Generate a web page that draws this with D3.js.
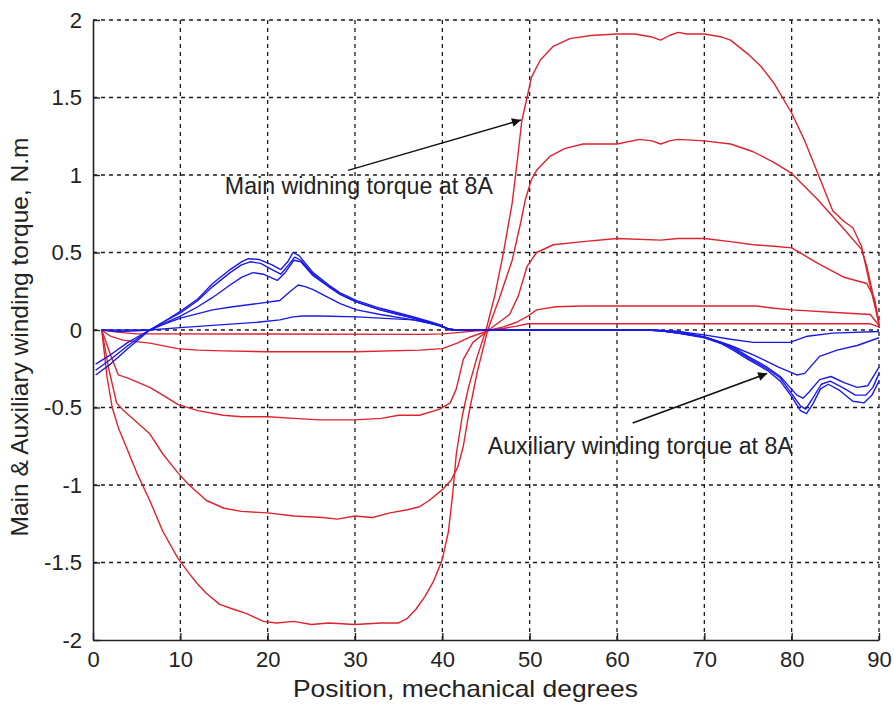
<!DOCTYPE html>
<html><head><meta charset="utf-8">
<script src="https://cdn.jsdelivr.net/npm/d3@7/dist/d3.min.js"></script>
<style>
html,body{margin:0;padding:0;background:#fff;}
svg{display:block;}
text{font-family:"Liberation Sans",Arial,Helvetica,sans-serif;fill:#222;}
</style></head>
<body>
<svg id="chart" width="894" height="705"></svg>
<script>
// ---- data ----
const xTicks = [0,10,20,30,40,50,60,70,80,90];
const yTicks = [-2,-1.5,-1,-0.5,0,0.5,1,1.5,2];
const yTickLabels = ["-2","-1.5","-1","-0.5","0","0.5","1","1.5","2"];

// main winding torque curves (red), largest current first
const main1 = [[1,0],[1.6,-0.3],[2.2,-0.5],[2.9,-0.63],[4,-0.78],[5,-0.92],[6.5,-1.1],[8,-1.3],[9.7,-1.47],[11,-1.57],[12,-1.64],[13,-1.7],[14.5,-1.77],[16,-1.8],[17.6,-1.83],[19.5,-1.88],[21,-1.89],[23,-1.88],[25,-1.9],[27,-1.89],[30,-1.9],[33,-1.89],[35,-1.89],[36,-1.86],[37,-1.8],[38,-1.72],[39,-1.62],[40,-1.48],[40.7,-1.3],[41.2,-1.05],[41.6,-0.8],[42.3,-0.55],[43,-0.37],[44,-0.17],[45,0],[46,0.22],[47,0.5],[48,0.82],[48.6,1.1],[49.1,1.35],[49.7,1.5],[50.2,1.63],[51.2,1.74],[52.7,1.83],[54.6,1.88],[57,1.9],[60,1.91],[62,1.91],[64,1.89],[65,1.87],[66,1.9],[67,1.92],[68,1.91],[70,1.91],[72,1.89],[73,1.87],[75,1.78],[76.5,1.7],[78,1.59],[80,1.4],[81.5,1.22],[83,1.01],[84.7,0.77],[86,0.7],[87,0.66],[88,0.54],[89,0.28],[90,0.04]];
const main2 = [[1,0],[1.8,-0.25],[2.7,-0.47],[3.5,-0.52],[4.5,-0.57],[6.5,-0.67],[8,-0.8],[9.7,-0.92],[11,-1.0],[13,-1.1],[15,-1.15],[17,-1.17],[20,-1.18],[23,-1.2],[26.3,-1.21],[28,-1.22],[30,-1.2],[32,-1.21],[34,-1.18],[36,-1.16],[37.4,-1.14],[38.5,-1.1],[40,-1.03],[41,-0.97],[41.8,-0.88],[42.4,-0.75],[43,-0.55],[44,-0.27],[45.2,0],[46.5,0.2],[48,0.45],[49,0.7],[49.5,0.84],[50.2,0.97],[50.8,1.03],[52.3,1.12],[54,1.17],[56.1,1.2],[60,1.2],[62.6,1.23],[64,1.22],[65,1.2],[66,1.22],[67,1.23],[70,1.22],[73,1.2],[75.6,1.15],[78,1.08],[80,1.01],[83,0.84],[86,0.65],[88,0.52],[88.6,0.41],[89.7,0.13],[90,0.05]];
const main3 = [[1,0],[2,-0.16],[2.9,-0.29],[4,-0.31],[6.5,-0.37],[8,-0.42],[9.7,-0.48],[12,-0.52],[14.9,-0.55],[17,-0.56],[20,-0.56],[23,-0.57],[26,-0.58],[30,-0.58],[33,-0.57],[35,-0.55],[37.4,-0.55],[39.7,-0.51],[40.9,-0.47],[41.6,-0.38],[42.4,-0.19],[43.5,-0.08],[45.3,0],[46.5,0.05],[47.7,0.1],[48.7,0.22],[49.7,0.41],[50.8,0.5],[52.7,0.55],[56.1,0.57],[60,0.59],[65,0.58],[67,0.59],[70,0.59],[73,0.57],[75.6,0.55],[78,0.54],[80,0.53],[83,0.43],[86,0.34],[88.6,0.3],[89.5,0.2],[90,0.03]];
const main4 = [[1,0],[2,-0.04],[3.4,-0.065],[6.5,-0.085],[9.7,-0.12],[12,-0.13],[14.9,-0.135],[20,-0.14],[30,-0.14],[37.4,-0.13],[40,-0.12],[41.7,-0.085],[43.2,-0.045],[45.5,0],[47,0.02],[48.5,0.05],[49.8,0.09],[50.8,0.13],[53,0.15],[56.1,0.155],[76,0.155],[78,0.14],[80,0.13],[86,0.11],[89,0.1],[90,0.03]];
const main5 = [[1,0],[3,-0.015],[5,-0.025],[38,-0.028],[40,-0.025],[42,-0.015],[44,-0.005],[45.5,0],[47,0.01],[48.5,0.025],[49.8,0.04],[89,0.04],[90,0.02]];

// auxiliary winding torque curves (blue)
const aux1 = [[0.3,-0.29],[2,-0.22],[4,-0.12],[6.5,0.0],[8,0.05],[10,0.12],[12,0.2],[13.7,0.3],[15.7,0.39],[17,0.44],[17.8,0.46],[19,0.455],[20.5,0.42],[21.5,0.39],[22.3,0.44],[22.9,0.5],[23.6,0.48],[25.2,0.37],[27,0.29],[28.3,0.24],[30.2,0.19],[32.9,0.14],[35,0.11],[36.7,0.085],[38.5,0.055],[39.7,0.035],[40.5,0.01],[41.5,0],[63.4,0],[65,-0.005],[67,-0.02],[70,-0.05],[72,-0.09],[73.3,-0.13],[75,-0.19],[77.2,-0.26],[78.7,-0.33],[80,-0.43],[81,-0.52],[81.7,-0.54],[82.4,-0.48],[83.3,-0.38],[84.2,-0.35],[85.5,-0.39],[87,-0.46],[88.3,-0.47],[89.2,-0.42],[90,-0.33]];
const aux2 = [[0.3,-0.26],[2,-0.19],[4,-0.1],[6.5,0.0],[8,0.05],[10,0.11],[12,0.19],[13.7,0.28],[15.7,0.37],[17,0.42],[18,0.44],[19.2,0.43],[20.5,0.39],[21.5,0.36],[22.4,0.42],[23.1,0.47],[23.8,0.45],[25.2,0.36],[27,0.28],[28.3,0.23],[30.2,0.18],[32.9,0.13],[35,0.1],[36.7,0.08],[38.5,0.05],[39.7,0.03],[40.5,0.01],[41.5,0],[63.4,0],[65,-0.005],[67,-0.02],[70,-0.045],[72,-0.085],[73.3,-0.12],[75,-0.18],[77.2,-0.25],[78.7,-0.31],[80,-0.41],[81,-0.49],[81.6,-0.51],[82.3,-0.45],[83.4,-0.35],[84.4,-0.33],[85.8,-0.37],[87.3,-0.42],[88.5,-0.42],[89.3,-0.37],[90,-0.28]];
const aux3 = [[0.3,-0.22],[2,-0.16],[4,-0.08],[6.5,0.0],[8,0.04],[10,0.09],[12,0.15],[13.7,0.21],[15.7,0.29],[17,0.34],[18.3,0.37],[19.5,0.36],[21.1,0.32],[22,0.37],[23,0.45],[23.8,0.44],[25.2,0.35],[27,0.28],[28.3,0.23],[30.2,0.18],[32.9,0.13],[35,0.1],[36.7,0.075],[38.5,0.045],[39.7,0.025],[40.5,0.01],[41.5,0],[63.4,0],[65,-0.005],[67,-0.02],[70,-0.045],[72,-0.08],[73.3,-0.11],[75,-0.17],[77.2,-0.24],[78.7,-0.3],[79.8,-0.37],[80.6,-0.42],[81.3,-0.44],[82,-0.4],[83.2,-0.32],[84.5,-0.3],[86,-0.34],[87.5,-0.37],[88.7,-0.36],[90,-0.24]];
const aux4 = [[1,0],[3,-0.01],[5,-0.005],[6.5,0],[8,0.035],[10,0.077],[13.7,0.13],[16,0.15],[18.8,0.17],[21.4,0.19],[22.6,0.25],[23.5,0.29],[24.3,0.28],[25.2,0.26],[28.3,0.17],[30.2,0.13],[32.9,0.1],[36.7,0.065],[39.7,0.03],[41,0],[63.5,0],[67,-0.01],[70,-0.045],[73,-0.1],[75.6,-0.16],[78.5,-0.24],[80.6,-0.29],[81.5,-0.28],[83.2,-0.17],[85.2,-0.13],[87.5,-0.1],[90,-0.05]];
const aux5 = [[1,0],[6.5,0],[10,0.015],[13.7,0.03],[18.8,0.05],[21.4,0.065],[22.9,0.085],[24,0.09],[26,0.09],[30.2,0.085],[36.7,0.065],[39.7,0.03],[41,0],[64,0],[67,-0.01],[69.8,-0.03],[73,-0.06],[75.6,-0.08],[79.8,-0.08],[81.8,-0.04],[84.7,-0.02],[90,-0.01]];

const mainSeries = [main5, main4, main3, main2, main1];
const auxSeries = [aux5, aux4, aux3, aux2, aux1];

const xLabel = "Position, mechanical degrees";
const yLabel = "Main & Auxiliary winding torque, N.m";
// annotations: text, arrow tail (data), arrow head (data), text position (data)
const annMainText = "Main widning torque at 8A";
const annAuxText = "Auxiliary winding torque at 8A";
const annMainArrow = [[29.2, 1.03], [49.0, 1.355]];
const annAuxArrow = [[61.8, -0.6], [77.2, -0.28]];
const annMainPos = [15.1, 0.88];
const annAuxPos = [45.2, -0.8];

// ---- drawing ----
const W = 894, H = 705;
const L = 93, R = 879, T = 20, B = 640;
const svg = d3.select("#chart");
svg.append("rect").attr("width", W).attr("height", H).attr("fill", "#fff");

const x = d3.scaleLinear().domain([0, 90]).range([L, R]);
const y = d3.scaleLinear().domain([-2, 2]).range([B, T]);

const defs = svg.append("defs");
defs.append("marker").attr("id", "ah").attr("viewBox", "0 0 10 10")
  .attr("refX", 10).attr("refY", 5).attr("markerWidth", 14).attr("markerHeight", 9)
  .attr("markerUnits", "userSpaceOnUse").attr("orient", "auto")
  .append("path").attr("d", "M0,0 L10,5 L0,10 Z").attr("fill", "#111");

// grid
const grid = svg.append("g").attr("stroke", "#1a1a1a").attr("stroke-width", 1.3).attr("stroke-dasharray", "4,4");
xTicks.filter(d => d !== 0).forEach(d => {
  grid.append("line").attr("x1", x(d)).attr("x2", x(d)).attr("y1", T).attr("y2", B);
});
yTicks.filter(d => d !== -2).forEach(d => {
  grid.append("line").attr("x1", L).attr("x2", R).attr("y1", y(d)).attr("y2", y(d));
});

// axes
const xAxis = d3.axisBottom(x).tickValues(xTicks).tickSizeInner(-7).tickSizeOuter(0).tickPadding(11).tickFormat(d3.format("d"));
const yAxis = d3.axisLeft(y).tickValues(yTicks).tickSizeInner(-7).tickSizeOuter(0).tickPadding(11)
  .tickFormat(d => yTickLabels[yTicks.indexOf(d)]);
const gx = svg.append("g").attr("transform", `translate(0,${B})`).call(xAxis);
const gy = svg.append("g").attr("transform", `translate(${L},0)`).call(yAxis);
[gx, gy].forEach(g => {
  g.select(".domain").attr("stroke", "#222").attr("stroke-width", 1.6);
  g.selectAll(".tick line").attr("stroke", "#222").attr("stroke-width", 1.4);
  g.selectAll(".tick text").attr("font-size", 22).attr("fill", "#2a2a2a")
    .attr("font-family", '"Liberation Sans",Arial,sans-serif');
});
gx.selectAll(".tick text").attr("dy", "0.71em");

// curves
const line = d3.line().x(d => x(d[0])).y(d => y(d[1]));
const cg = svg.append("g").attr("fill", "none").attr("stroke-width", 1.4).attr("stroke-linejoin", "round");
mainSeries.forEach(s => cg.append("path").attr("d", line(s)).attr("stroke", "#df222d"));
auxSeries.forEach(s => cg.append("path").attr("d", line(s)).attr("stroke", "#1a1ae6"));

// annotations
const ag = svg.append("g");
[annMainArrow, annAuxArrow].forEach(a => {
  ag.append("line").attr("x1", x(a[0][0])).attr("y1", y(a[0][1]))
    .attr("x2", x(a[1][0])).attr("y2", y(a[1][1]))
    .attr("stroke", "#111").attr("stroke-width", 1.5).attr("marker-end", "url(#ah)");
});
ag.append("text").attr("x", x(annMainPos[0])).attr("y", y(annMainPos[1]))
  .attr("font-size", 23).attr("textLength", 268).attr("lengthAdjust", "spacingAndGlyphs").text(annMainText);
ag.append("text").attr("x", x(annAuxPos[0])).attr("y", y(annAuxPos[1]))
  .attr("font-size", 23).attr("textLength", 305).attr("lengthAdjust", "spacingAndGlyphs").text(annAuxText);

// axis labels
svg.append("text").attr("x", 293).attr("y", 697)
  .attr("font-size", 24).attr("textLength", 345).attr("lengthAdjust", "spacingAndGlyphs").text(xLabel);
svg.append("text").attr("transform", `translate(28,337) rotate(-90)`)
  .attr("text-anchor", "middle").attr("font-size", 24.5).text(yLabel);
</script>
</body></html>
